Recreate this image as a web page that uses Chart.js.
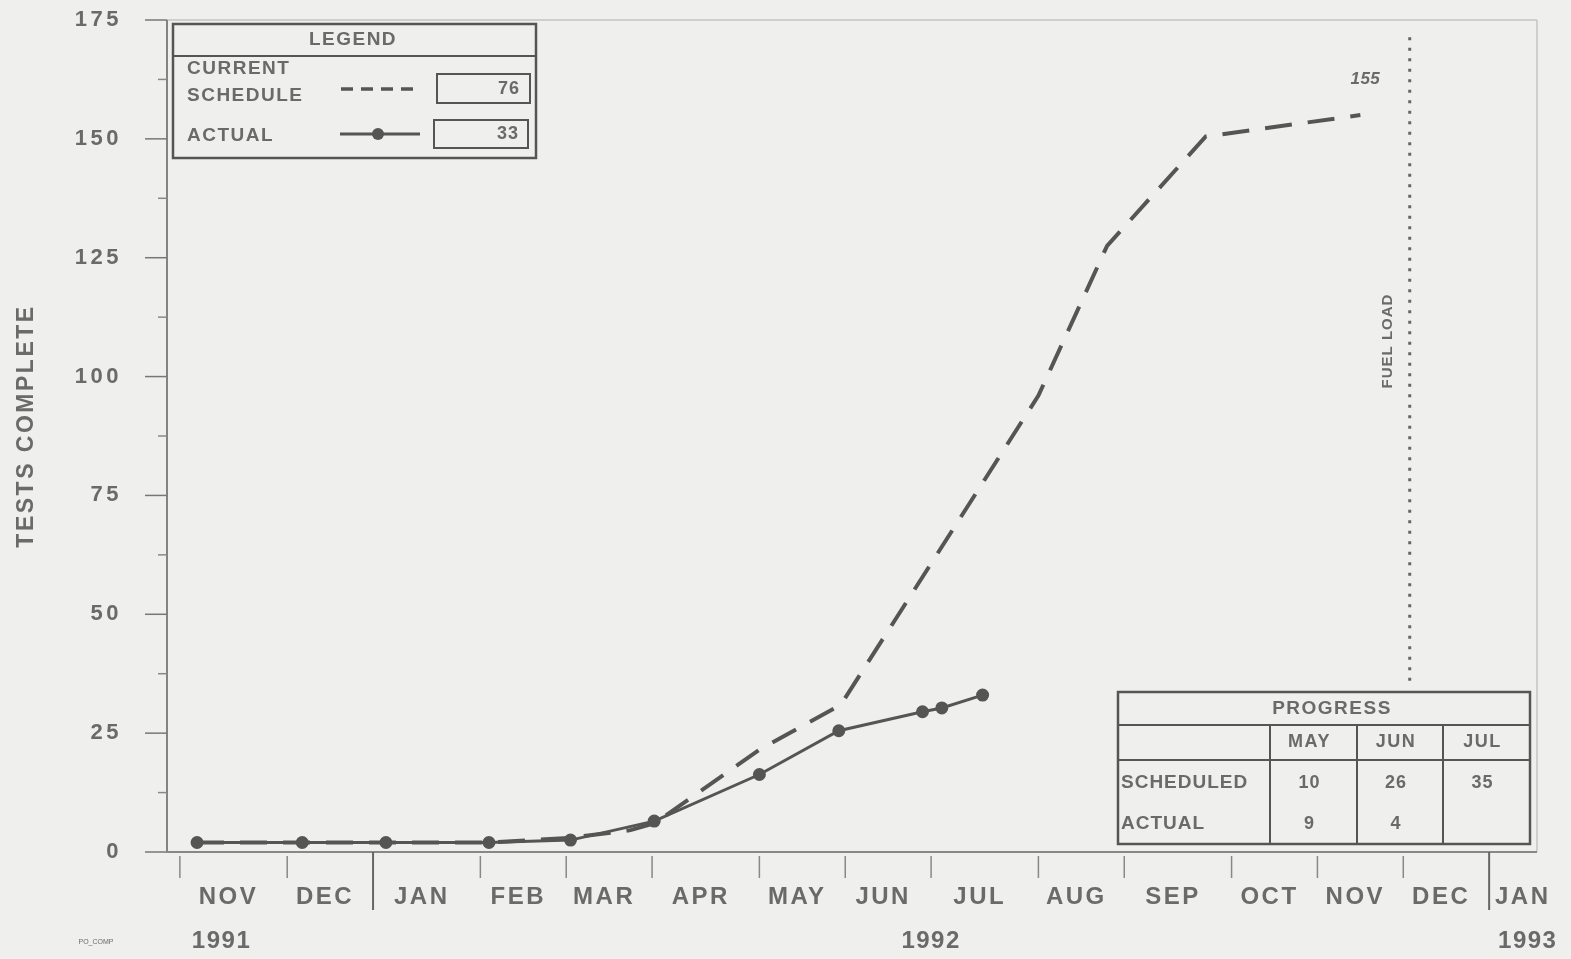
<!DOCTYPE html>
<html>
<head>
<meta charset="utf-8">
<title>Tests Complete</title>
<script src="https://cdn.jsdelivr.net/npm/chart.js@4.4.0/dist/chart.umd.min.js"></script>
<style>
  html, body { margin: 0; padding: 0; background: #efefed; }
  #wrap { width: 1571px; height: 959px; }
</style>
</head>
<body>
<div id="wrap"><canvas id="testsChart" width="1571" height="959"></canvas></div>
<script>
// x axis is in weeks from the start of NOV 1991
const monthLabels = ["NOV", "DEC", "JAN", "FEB", "MAR", "APR", "MAY", "JUN", "JUL", "AUG", "SEP", "OCT", "NOV", "DEC", "JAN"];
const monthWeeks = [5, 4, 5, 4, 4, 5, 4, 4, 5, 4, 5, 4, 4, 4];
const yearLabels = ["1991", "1992", "1993"];
const yTicks = [0, 25, 50, 75, 100, 125, 150, 175];

const scheduleWeek = [0.8, 5.7, 9.6, 14.4, 18.2, 21.0, 22.1, 27.0, 30.8, 40.0, 43.2, 47.8, 55.0];
const scheduleTests = [2, 2, 2, 2, 3, 4.6, 6, 21.5, 31, 96, 127.5, 150.5, 155];

const actualWeek = [0.8, 5.7, 9.6, 14.4, 18.2, 22.1, 27.0, 30.7, 34.6, 35.5, 37.4];
const actualTests = [2, 2, 2, 2, 2.5, 6.5, 16.3, 25.5, 29.5, 30.3, 33];

const fuelLoadWeek = 57.3;
const fuelLoadTests = [36, 172];

const legendSchedule = "76";
const legendActual = "33";

const progressMonths = ["MAY", "JUN", "JUL"];
const progressScheduled = ["10", "26", "35"];
const progressActual = ["9", "4", ""];

const ink = "#555";
const textInk = "#6a6a6a";
const fam = '"Liberation Sans", Arial, sans-serif';

// week where each month starts
const monthStarts = [0];
monthWeeks.forEach(w => monthStarts.push(monthStarts[monthStarts.length - 1] + w));

function text(ctx, s, x, y, size, align, spacing, style) {
  ctx.save();
  ctx.font = (style || "bold") + " " + size + "px " + fam;
  ctx.fillStyle = textInk;
  ctx.textAlign = align || "center";
  ctx.textBaseline = "middle";
  ctx.letterSpacing = (spacing || 0) + "px";
  ctx.fillText(s, x, y);
  ctx.restore();
}

function line(ctx, x1, y1, x2, y2, w, col) {
  ctx.save();
  ctx.strokeStyle = col || ink;
  ctx.lineWidth = w || 1.5;
  ctx.beginPath();
  ctx.moveTo(x1, y1);
  ctx.lineTo(x2, y2);
  ctx.stroke();
  ctx.restore();
}

const axesPlugin = {
  id: "axes",
  beforeDatasetsDraw(chart) {
    const ctx = chart.ctx;
    const a = chart.chartArea;
    const xs = chart.scales.x, ys = chart.scales.y;

    // frame
    line(ctx, a.left, a.top, a.right, a.top, 1.5, "#c4c4c4");
    line(ctx, a.right, a.top, a.right, a.bottom, 1.5, "#c4c4c4");
    line(ctx, a.left, a.top, a.left, a.bottom, 1.8, "#777");
    line(ctx, a.left, a.bottom, a.right, a.bottom, 1.8, "#888");

    // y ticks, majors and halves
    yTicks.forEach((v, i) => {
      const y = ys.getPixelForValue(v);
      line(ctx, a.left - 22, y, a.left, y, 1.5, "#777");
      text(ctx, String(v), 122, y, 22, "right", 3.5);
      if (i < yTicks.length - 1) {
        const ym = ys.getPixelForValue((v + yTicks[i + 1]) / 2);
        line(ctx, a.left - 9, ym, a.left, ym, 1.5, "#888");
      }
    });

    ctx.save();
    ctx.translate(27, 426);
    ctx.rotate(-Math.PI / 2);
    text(ctx, "TESTS COMPLETE", 0, 0, 23, "center", 2.5);
    ctx.restore();

    // month ticks and labels
    monthStarts.forEach((w, i) => {
      const x = xs.getPixelForValue(w);
      if (monthLabels[i] === "JAN") {
        line(ctx, x, a.bottom, x, a.bottom + 58, 2, "#666");
      } else {
        line(ctx, x, a.bottom + 4, x, a.bottom + 26, 1.5, "#888");
      }
    });
    monthLabels.forEach((m, i) => {
      const w0 = monthStarts[i];
      const w1 = i < monthWeeks.length ? monthStarts[i + 1] : w0 + 3.6;
      const x = xs.getPixelForValue((w0 + w1) / 2) - 5;
      text(ctx, m, x, 897, 24, "center", 2.5);
    });

    // years
    const jan = [];
    monthLabels.forEach((m, i) => { if (m === "JAN") jan.push(i); });
    const yearY = 941;
    text(ctx, yearLabels[0], xs.getPixelForValue((monthStarts[0] + monthStarts[1]) / 2) - 12, yearY, 24, "center", 1.5);
    text(ctx, yearLabels[1], (xs.getPixelForValue(monthStarts[jan[0]]) + xs.getPixelForValue(monthStarts[jan[1]])) / 2, yearY, 24, "center", 1.5);
    text(ctx, yearLabels[2], xs.getPixelForValue(monthStarts[jan[1]] + 1.8), yearY, 24, "center", 1.5);
    text(ctx, "PO_COMP", 96, 942, 7, "center", 0, "normal");
  },
  afterDatasetsDraw(chart) {
    const ctx = chart.ctx;
    const xs = chart.scales.x, ys = chart.scales.y;

    // label at end of schedule
    const n = scheduleWeek.length - 1;
    text(ctx, String(scheduleTests[n]), xs.getPixelForValue(scheduleWeek[n]) + 5,
      ys.getPixelForValue(scheduleTests[n]) - 36, 17, "center", 0.5, "italic bold");

    // fuel load note
    ctx.save();
    ctx.translate(xs.getPixelForValue(fuelLoadWeek) - 22, 341);
    ctx.rotate(-Math.PI / 2);
    text(ctx, "FUEL LOAD", 0, 0, 15, "center", 1);
    ctx.restore();

    // legend box
    ctx.save();
    ctx.fillStyle = "#efefed";
    ctx.fillRect(173, 24, 363, 134);
    ctx.strokeStyle = ink;
    ctx.lineWidth = 2.5;
    ctx.strokeRect(173, 24, 363, 134);
    ctx.lineWidth = 2;
    ctx.strokeRect(437, 74, 93, 29);
    ctx.strokeRect(434, 120, 94, 28);
    ctx.restore();
    line(ctx, 173, 56, 536, 56, 2.2);
    text(ctx, "LEGEND", 353, 40, 19, "center", 1.5);
    text(ctx, "CURRENT", 187, 69, 19, "left", 1.5);
    text(ctx, "SCHEDULE", 187, 96, 19, "left", 1.5);
    text(ctx, "ACTUAL", 187, 136, 19, "left", 1.5);
    ctx.save();
    ctx.setLineDash([12, 8]);
    line(ctx, 341, 89, 414, 89, 3.5);
    ctx.restore();
    line(ctx, 340, 134, 420, 134, 3);
    ctx.save();
    ctx.fillStyle = ink;
    ctx.beginPath();
    ctx.arc(378, 134, 6, 0, Math.PI * 2);
    ctx.fill();
    ctx.restore();
    text(ctx, legendSchedule, 520, 89, 18, "right", 1);
    text(ctx, legendActual, 519, 134, 18, "right", 1);

    // progress table
    const tx1 = 1118, ty1 = 692, tx2 = 1530, ty2 = 844;
    const cols = [1270, 1357, 1443, tx2];
    ctx.save();
    ctx.fillStyle = "#efefed";
    ctx.fillRect(tx1, ty1, tx2 - tx1, ty2 - ty1);
    ctx.strokeStyle = ink;
    ctx.lineWidth = 2.5;
    ctx.strokeRect(tx1, ty1, tx2 - tx1, ty2 - ty1);
    ctx.restore();
    line(ctx, tx1, 725, tx2, 725, 2);
    line(ctx, tx1, 760, tx2, 760, 2);
    for (let i = 0; i < 3; i++) line(ctx, cols[i], 725, cols[i], ty2, 2);
    text(ctx, "PROGRESS", (tx1 + tx2) / 2 + 8, 709, 19, "center", 1.5);
    text(ctx, "SCHEDULED", 1121, 783, 19, "left", 1);
    text(ctx, "ACTUAL", 1121, 824, 19, "left", 1);
    progressMonths.forEach((m, i) => {
      const cx = (cols[i] + cols[i + 1]) / 2 - 4;
      text(ctx, m, cx, 742, 18, "center", 1.5);
      text(ctx, progressScheduled[i], cx, 783, 18, "center", 1);
      text(ctx, progressActual[i], cx, 824, 18, "center", 1);
    });
  }
};

const toPoints = (xsArr, ysArr) => xsArr.map((x, i) => ({ x: x, y: ysArr[i] }));

const ctx = document.getElementById("testsChart").getContext("2d");

const testsChart = new Chart(ctx, {
  type: "line",
  data: {
    datasets: [
      {
        label: "CURRENT SCHEDULE",
        data: toPoints(scheduleWeek, scheduleTests),
        borderColor: ink,
        borderWidth: 4,
        borderDash: [27, 16],
        pointRadius: 0,
        tension: 0,
      },
      {
        label: "ACTUAL",
        data: toPoints(actualWeek, actualTests),
        borderColor: ink,
        borderWidth: 3,
        pointRadius: 5,
        pointBackgroundColor: ink,
        pointBorderColor: ink,
        tension: 0,
      },
      {
        label: "FUEL LOAD",
        data: toPoints([fuelLoadWeek, fuelLoadWeek], fuelLoadTests),
        borderColor: "#666",
        borderWidth: 3,
        borderDash: [3, 7.5],
        pointRadius: 0,
      },
    ],
  },
  options: {
    responsive: false,
    animation: false,
    layout: { padding: { left: 167, right: 34, top: 20, bottom: 107 } },
    plugins: {
      legend: { display: false },
      tooltip: { enabled: false },
    },
    scales: {
      x: { type: "linear", display: false, min: -0.6, max: 63.23 },
      y: { display: false, min: 0, max: 175 },
    },
  },
  plugins: [axesPlugin],
});
</script>
</body>
</html>
